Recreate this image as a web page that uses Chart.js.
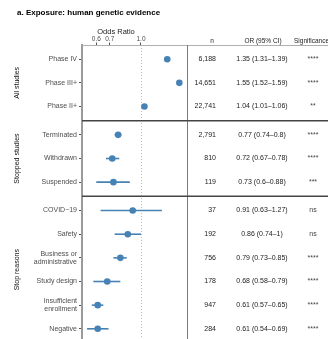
<!DOCTYPE html>
<html>
<head>
<meta charset="utf-8">
<script src="https://cdn.jsdelivr.net/npm/chart.js@4"></script>
<style>
    html, body { margin: 0; padding: 0; background: #fff; overflow: hidden; }
    #wrap { width: 328px; height: 350px; }
</style>
</head>
<body>
<div id="wrap"><canvas id="orChart"></canvas></div>
<script>
// Rows of the forest plot, top to bottom
const rowLabels = ['Phase IV', 'Phase III+', 'Phase II+',
    'Terminated', 'Withdrawn', 'Suspended',
    'COVID\u221219', 'Safety', ['Business or', 'administrative'], 'Study design',
    ['Insufficient', 'enrollment'], 'Negative'];
const groups = ['All studies', 'Stopped studies', 'Stop reasons'];
const rowGroup = [0, 0, 0, 1, 1, 1, 2, 2, 2, 2, 2, 2];

const oddsRatio = [1.35, 1.55, 1.04, 0.77, 0.72, 0.73, 0.91, 0.86, 0.79, 0.68, 0.61, 0.61];
const ciLow = [1.31, 1.52, 1.01, 0.74, 0.67, 0.60, 0.63, 0.74, 0.73, 0.58, 0.57, 0.54];
const ciHigh = [1.39, 1.59, 1.06, 0.80, 0.78, 0.88, 1.27, 1.00, 0.85, 0.79, 0.65, 0.69];

const nText = ['6,188', '14,651', '22,741', '2,791', '810', '119', '37', '192', '756', '178', '947', '284'];
const ciText = ['1.35 (1.31\u20131.39)', '1.55 (1.52\u20131.59)', '1.04 (1.01\u20131.06)',
    '0.77 (0.74\u20130.8)', '0.72 (0.67\u20130.78)', '0.73 (0.6\u20130.88)',
    '0.91 (0.63\u20131.27)', '0.86 (0.74\u20131)', '0.79 (0.73\u20130.85)',
    '0.68 (0.58\u20130.79)', '0.61 (0.57\u20130.65)', '0.61 (0.54\u20130.69)'];
const sigText = ['****', '****', '**', '****', '****', '***', 'ns', 'ns', '****', '****', '****', '****'];

const xTicks = [0.6, 0.7, 1.0];

// facet panels leave a little extra room between groups
const rowY = rowLabels.map((_, i) => i + 0.2 * rowGroup[i]);

const FONT = '"Liberation Sans", Arial, sans-serif';
const BLUE = '#4682b4';

const forestPlugin = {
    id: 'forest',
    beforeDatasetsDraw(chart) {
        const { ctx, chartArea, scales } = chart;
        const x = scales.x, y = scales.y;
        ctx.save();

        // reference line at OR = 1
        ctx.strokeStyle = '#bdbdbd';
        ctx.lineWidth = 1;
        ctx.setLineDash([1, 2]);
        ctx.beginPath();
        ctx.moveTo(Math.round(x.getPixelForValue(1)) + 0.5, chartArea.top);
        ctx.lineTo(Math.round(x.getPixelForValue(1)) + 0.5, chartArea.bottom);
        ctx.stroke();
        ctx.setLineDash([]);

        // error bars
        ctx.strokeStyle = BLUE;
        ctx.lineWidth = 1.6;
        rowY.forEach((v, i) => {
            const py = y.getPixelForValue(v);
            ctx.beginPath();
            ctx.moveTo(x.getPixelForValue(ciLow[i]), py);
            ctx.lineTo(x.getPixelForValue(ciHigh[i]), py);
            ctx.stroke();
        });
        ctx.restore();
    },
    afterDraw(chart) {
        const { ctx, chartArea, scales, width } = chart;
        const y = scales.y;
        ctx.save();

        // panel frame and group separators
        ctx.strokeStyle = '#b0b0b0';
        ctx.lineWidth = 1;
        ctx.beginPath();
        ctx.moveTo(chartArea.left, chartArea.top + 0.5);
        ctx.lineTo(width, chartArea.top + 0.5);
        ctx.stroke();

        ctx.strokeStyle = '#7a7a7a';
        ctx.beginPath();
        ctx.moveTo(chartArea.right + 0.5, chartArea.top);
        ctx.lineTo(chartArea.right + 0.5, chartArea.bottom);
        ctx.stroke();

        ctx.strokeStyle = '#444';
        ctx.lineWidth = 1.5;
        for (let g = 0; g < groups.length - 1; g++) {
            const last = rowGroup.lastIndexOf(g);
            const py = y.getPixelForValue(rowY[last] + 0.6);
            ctx.beginPath();
            ctx.moveTo(chartArea.left, py);
            ctx.lineTo(width, py);
            ctx.stroke();
        }

        // title
        ctx.fillStyle = '#000';
        ctx.font = 'bold 8px ' + FONT;
        ctx.textAlign = 'left';
        ctx.textBaseline = 'middle';
        ctx.fillText('a. Exposure: human genetic evidence', 17, 13);

        // axis title
        ctx.font = '7.5px ' + FONT;
        ctx.fillStyle = '#222';
        ctx.textAlign = 'center';
        ctx.fillText('Odds Ratio', 116, 32);

        // table headers
        ctx.font = '6.5px ' + FONT;
        ctx.fillStyle = '#222';
        ctx.fillText('n', 212, 41);
        ctx.fillText('OR (95% CI)', 263, 41);
        ctx.textAlign = 'left';
        ctx.fillText('Significance', 294, 41);

        // table rows
        ctx.font = '7px ' + FONT;
        rowY.forEach((v, i) => {
            const py = y.getPixelForValue(v);
            ctx.fillStyle = '#222';
            ctx.textAlign = 'right';
            ctx.fillText(nText[i], 216, py);
            ctx.textAlign = 'center';
            ctx.fillText(ciText[i], 262, py);
            ctx.fillStyle = '#444';
            ctx.fillText(sigText[i], 313, py);
        });

        // facet strip labels
        ctx.font = '7px ' + FONT;
        ctx.fillStyle = '#111';
        groups.forEach((g, gi) => {
            const first = rowGroup.indexOf(gi);
            const last = rowGroup.lastIndexOf(gi);
            const py = (y.getPixelForValue(rowY[first]) + y.getPixelForValue(rowY[last])) / 2;
            ctx.save();
            ctx.translate(17, py);
            ctx.rotate(-Math.PI / 2);
            ctx.textAlign = 'center';
            ctx.fillText(g, 0, 0);
            ctx.restore();
        });
        ctx.restore();
    }
};

new Chart(document.getElementById('orChart'), {
    type: 'scatter',
    data: {
        datasets: [{
            data: oddsRatio.map((v, i) => ({ x: v, y: rowY[i] })),
            backgroundColor: BLUE,
            borderWidth: 0,
            pointRadius: 3.3
        }]
    },
    options: {
        responsive: true,
        maintainAspectRatio: false,
        animation: false,
        layout: { padding: { left: 0, right: 141, top: 0, bottom: 7 } },
        plugins: { legend: { display: false }, tooltip: { enabled: false } },
        scales: {
            x: {
                type: 'logarithmic',
                position: 'top',
                min: 0.5096,
                max: 1.692,
                afterBuildTicks: scale => { scale.ticks = xTicks.map(v => ({ value: v })); },
                afterFit: scale => { scale.height = 45; },
                ticks: {
                    callback: v => Number(v).toFixed(1),
                    font: { family: FONT, size: 6.5 },
                    color: '#4d4d4d',
                    padding: -1,
                    maxRotation: 0
                },
                grid: { drawOnChartArea: false, tickLength: 2.5, color: '#555' },
                border: { display: false }
            },
            y: {
                type: 'linear',
                reverse: true,
                min: -0.6,
                max: rowY[rowY.length - 1] + 0.6,
                afterBuildTicks: scale => { scale.ticks = rowY.map(v => ({ value: v })); },
                afterFit: scale => { scale.width = 82; },
                ticks: {
                    autoSkip: false,
                    callback: (v, i) => rowLabels[i],
                    font: { family: FONT, size: 7, lineHeight: 1.15 },
                    color: '#4d4d4d',
                    padding: 2
                },
                grid: { drawOnChartArea: false, tickLength: 3, color: '#555' },
                border: { color: '#9a9a9a', width: 2 }
            }
        }
    },
    plugins: [forestPlugin]
});
</script>
</body>
</html>
